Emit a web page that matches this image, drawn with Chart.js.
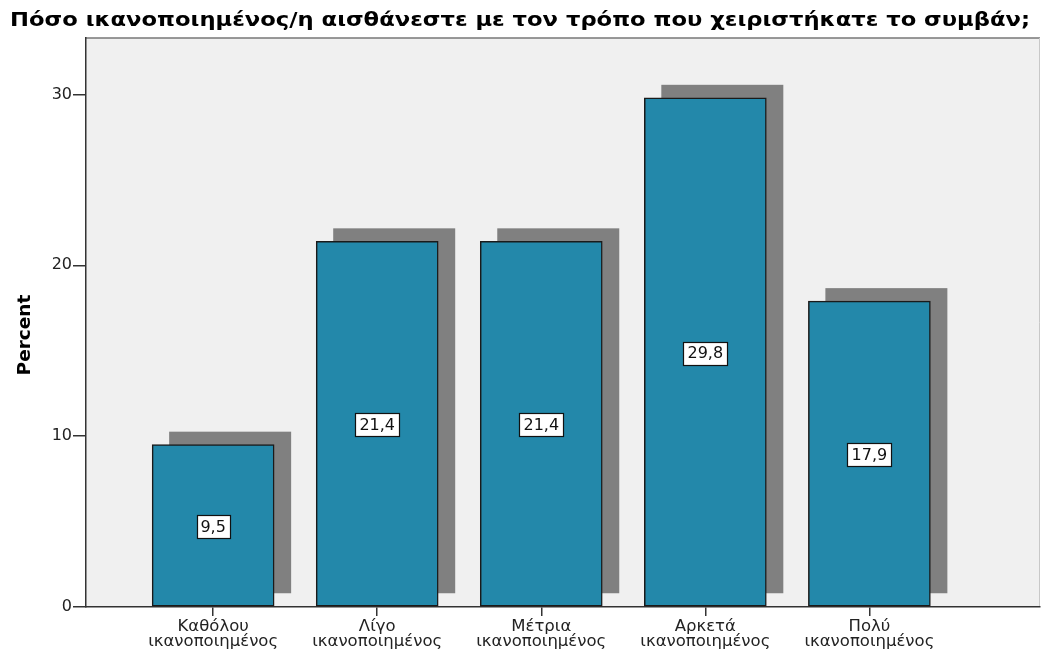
<!DOCTYPE html>
<html>
<head>
<meta charset="utf-8">
<script src="https://cdn.jsdelivr.net/npm/chart.js@4/dist/chart.umd.min.js"></script>
<style>
html,body{margin:0;padding:0;background:#fff;}
#wrap{width:1044px;height:652px;position:relative;}
</style>
</head>
<body>
<div id="wrap"><canvas id="c" width="1044" height="652"></canvas></div>
<script>
const titleText = 'Πόσο ικανοποιημένος/η αισθάνεστε με τον τρόπο που χειριστήκατε το συμβάν;';
const categories = ['Καθόλου ικανοποιημένος', 'Λίγο ικανοποιημένος', 'Μέτρια ικανοποιημένος', 'Αρκετά ικανοποιημένος', 'Πολύ ικανοποιημένος'];
const percentValues = [9.5, 21.4, 21.4, 29.8, 17.9];
const yTickValues = [0, 10, 20, 30];
const yAxisTitle = 'Percent';

const FONT = 'DejaVu Sans';

const bgPlugin = {
  id: 'plotBg',
  beforeDraw(chart) {
    const {ctx, chartArea: a} = chart;
    ctx.save();
    ctx.fillStyle = '#f0f0f0';
    ctx.fillRect(a.left, a.top, a.right - a.left, a.bottom - a.top);
    ctx.strokeStyle = '#777';
    ctx.lineWidth = 1.5;
    ctx.beginPath();
    ctx.moveTo(a.left, a.top); ctx.lineTo(a.right, a.top);
    ctx.stroke();
    ctx.strokeStyle = '#c8c8c8';
    ctx.lineWidth = 1;
    ctx.beginPath();
    ctx.moveTo(a.right - 0.5, a.top); ctx.lineTo(a.right - 0.5, a.bottom);
    ctx.stroke();
    ctx.restore();
  }
};

const shadowPlugin = {
  id: 'barShadow',
  beforeDatasetsDraw(chart) {
    const {ctx} = chart;
    const meta = chart.getDatasetMeta(0);
    ctx.save();
    ctx.fillStyle = '#808080';
    meta.data.forEach(el => {
      const w = el.width;
      ctx.fillRect(el.x - w / 2 + 17, el.y - 13, w, el.base - el.y);
    });
    ctx.restore();
  }
};

const labelPlugin = {
  id: 'boxLabels',
  afterDatasetsDraw(chart) {
    const {ctx} = chart;
    const meta = chart.getDatasetMeta(0);
    ctx.save();
    ctx.font = '16px "' + FONT + '"';
    ctx.textAlign = 'center';
    ctx.textBaseline = 'middle';
    meta.data.forEach((el, i) => {
      const txt = percentValues[i].toFixed(1).replace('.', ',');
      const cy = (el.y + el.base) / 2 + 1;
      const tw = ctx.measureText(txt).width;
      const bw = Math.round(tw + 8), bh = 23;
      const bx = Math.round(el.x - bw / 2) + 0.5, by = Math.round(cy - bh / 2) + 0.5;
      ctx.fillStyle = '#ffffff';
      ctx.fillRect(bx, by, bw, bh);
      ctx.strokeStyle = '#111';
      ctx.lineWidth = 1.2;
      ctx.strokeRect(bx, by, bw, bh);
      ctx.fillStyle = '#111';
      ctx.fillText(txt, el.x, cy + 1);
    });
    ctx.restore();
  }
};

const textPlugin = {
  id: 'titles',
  afterDraw(chart) {
    const {ctx} = chart;
    ctx.save();
    ctx.font = 'bold 19px "' + FONT + '"';
    ctx.fillStyle = '#000';
    ctx.textAlign = 'left';
    ctx.textBaseline = 'alphabetic';
    const tw = ctx.measureText(titleText).width;
    const sx = 1020 / tw;
    ctx.translate(10, 26);
    ctx.scale(sx, 1);
    ctx.fillText(titleText, 0, 0);
    ctx.restore();
    ctx.save();
    ctx.font = 'bold 18.5px "' + FONT + '"';
    ctx.fillStyle = '#000';
    ctx.textAlign = 'center';
    ctx.textBaseline = 'middle';
    ctx.translate(25, 335);
    ctx.rotate(-Math.PI / 2);
    ctx.fillText(yAxisTitle, 0, 0);
    ctx.restore();
  }
};

new Chart(document.getElementById('c'), {
  type: 'bar',
  data: {
    datasets: [{
      data: percentValues.map((v, i) => ({x: i, y: v})),
      backgroundColor: '#2388aa',
      borderColor: '#1a1a1a',
      borderWidth: 1.5,
      borderSkipped: false,
      barThickness: 122
    }]
  },
  options: {
    responsive: false,
    animation: false,
    events: [],
    layout: {padding: {left: 10, right: 4, top: 38, bottom: 0}},
    plugins: {
      legend: {display: false},
      tooltip: {enabled: false},
      title: {display: false}
    },
    scales: {
      x: {
        type: 'linear',
        offset: false,
        min: -0.775,
        max: 5.04,
        afterBuildTicks(scale) { scale.ticks = categories.map((_, i) => ({value: i})); },
        afterFit(scale) { scale.height = 45; },
        ticks: {
          autoSkip: false,
          maxRotation: 0,
          padding: 4,
          color: '#222',
          font: {family: FONT, size: 16.5, lineHeight: 0.86},
          callback: (v) => categories[v] !== undefined ? categories[v].split(' ') : ''
        },
        grid: {offset: false, drawOnChartArea: false, drawTicks: true, tickLength: 9, color: '#333', lineWidth: 1.5},
        border: {display: true, color: '#333', width: 1.5}
      },
      y: {
        min: 0,
        max: 33.3,
        afterBuildTicks(scale) { scale.ticks = yTickValues.map(v => ({value: v})); },
        afterFit(scale) { scale.width = 76; },
        ticks: {
          padding: 1,
          color: '#222',
          font: {family: FONT, size: 16}
        },
        grid: {drawOnChartArea: false, drawTicks: true, tickLength: 13, color: '#333', lineWidth: 1.5},
        border: {display: true, color: '#333', width: 1.5},
        title: {display: false}
      }
    }
  },
  plugins: [bgPlugin, shadowPlugin, labelPlugin, textPlugin]
});
</script>
</body>
</html>
